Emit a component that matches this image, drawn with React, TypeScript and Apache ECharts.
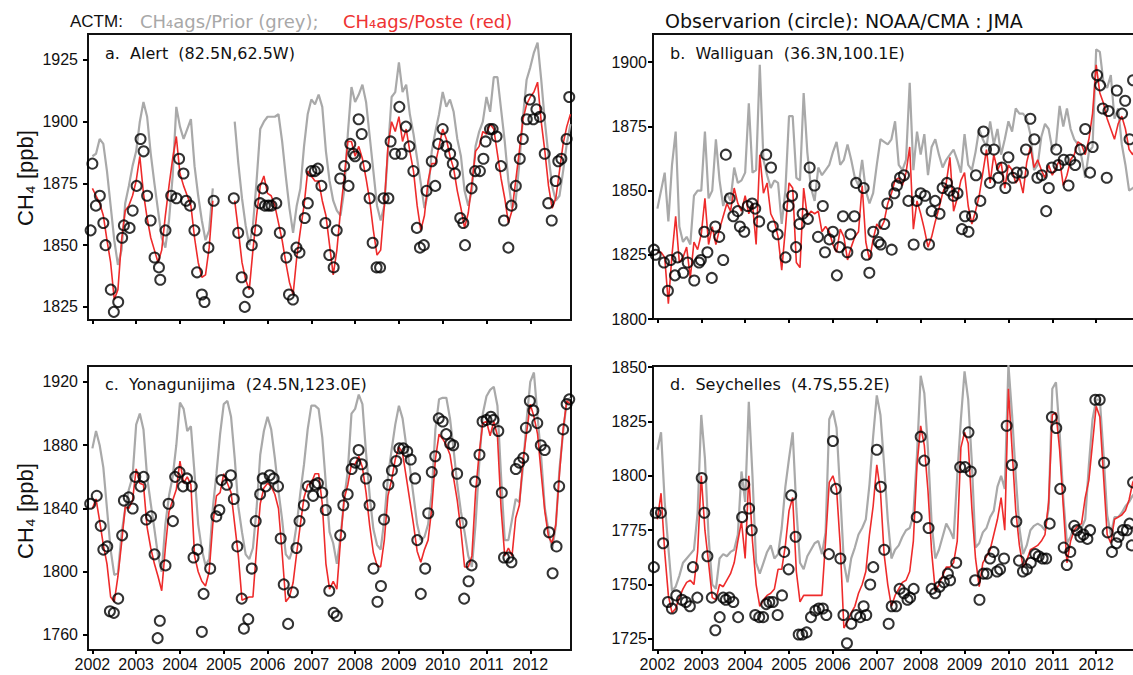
import React, { useEffect, useRef } from "react";
import * as echarts from "echarts";

// ---------------- data ----------------
const START_YEAR = 2002;
const N_MONTHS = 132;
const yearTicks = [2002, 2003, 2004, 2005, 2006, 2007, 2008, 2009, 2010, 2011, 2012];

const ticksA = [1825, 1850, 1875, 1900, 1925];
const ticksB = [1800, 1825, 1850, 1875, 1900];
const ticksC = [1760, 1800, 1840, 1880, 1920];
const ticksD = [1725, 1750, 1775, 1800, 1825, 1850];

// a. Alert — monthly ACTM prior (grey) and posterior (red)
const priorA = [
  1886, 1887, 1893, 1891, 1880, 1866, 1852, 1842, 1848, 1867, 1874, 1882,
  1888, 1900, 1908, 1902, 1887, 1875, 1864, 1853, 1849, 1860, 1878, 1906,
  1898, 1893, 1897, 1901, 1882, 1870, 1860, 1852, 1856, 1873, null, null,
  null, null, null, 1900, 1883, 1869, 1858, 1850, 1858, 1876, 1897, 1900,
  1902, 1902, 1902, 1903, 1892, 1878, 1865, 1855, 1866, 1873, 1890, 1903,
  1909, 1907, 1911, 1906, 1888, 1876, 1868, 1864, 1862, 1872, 1895, 1914,
  1908, 1911, 1915, 1908, 1894, 1880, 1866, 1860, 1866, 1888, 1910, 1912,
  1924, 1912, 1915, 1903, 1895, 1885, 1875, 1865, 1871, 1888, 1896, 1903,
  1912, 1906, 1909, 1904, 1893, 1886, 1872, 1866, 1872, 1890, 1896, 1900,
  1910, 1904, 1918, 1918, 1905, 1892, 1876, 1865, 1868, 1883, 1902, 1917,
  1922, 1928, 1932, 1917, 1900, 1886, 1874, 1868, 1870, 1880, 1891, 1899,
];
const postA = [
  1873, 1870, 1867, 1862, 1852, 1843, 1828, 1832, 1852, 1864, 1866, 1870,
  1876, 1886, 1871, 1861, 1853, 1848, 1843, 1848, 1862, 1874, 1885, 1894,
  1879, 1874, 1870, 1866, 1853, 1843, 1837, 1838, 1849, 1868, null, null,
  null, null, null, 1868, 1856, 1843, 1836, 1832, 1848, 1862, 1874, 1878,
  1871, 1870, 1866, 1859, 1852, 1843, 1835, 1830, 1845, 1856, 1866, 1880,
  1878, 1876, 1876, 1868, 1862, 1850, 1838, 1848, 1864, 1877, 1892, 1892,
  1886, 1890, 1885, 1877, 1868, 1856, 1846, 1848, 1866, 1890, 1900, 1896,
  1902, 1892, 1897, 1888, 1880, 1866, 1856, 1862, 1876, 1883, 1883, 1890,
  1897, 1893, 1886, 1881, 1872, 1865, 1857, 1863, 1875, 1888, 1890, 1896,
  1895, 1899, 1897, 1887, 1877, 1869, 1859, 1864, 1876, 1888, 1901, 1907,
  1910, 1912, 1916, 1900, 1888, 1874, 1865, 1869, 1880, 1891, 1898, 1903,
];
const obsA = [
  [2001.96, 1856], [2002.0, 1883], [2002.08, 1866], [2002.17, 1870], [2002.25, 1859], [2002.3, 1850],
  [2002.42, 1832], [2002.49, 1823], [2002.59, 1827], [2002.68, 1853], [2002.72, 1858], [2002.85, 1857],
  [2002.92, 1864], [2003.01, 1874], [2003.1, 1893], [2003.17, 1888], [2003.25, 1870], [2003.33, 1860],
  [2003.42, 1845], [2003.52, 1841], [2003.55, 1836], [2003.67, 1856], [2003.8, 1870], [2003.92, 1869],
  [2003.98, 1885], [2004.08, 1879], [2004.14, 1868], [2004.23, 1866], [2004.33, 1856], [2004.39, 1839],
  [2004.5, 1830], [2004.56, 1827], [2004.65, 1849], [2004.77, 1868], [2005.23, 1869], [2005.33, 1855],
  [2005.41, 1837], [2005.48, 1825], [2005.56, 1831], [2005.64, 1850], [2005.75, 1856], [2005.83, 1867],
  [2005.89, 1873], [2005.94, 1866], [2006.02, 1866], [2006.09, 1866], [2006.2, 1867], [2006.28, 1855],
  [2006.43, 1845], [2006.49, 1830], [2006.58, 1828], [2006.66, 1849], [2006.73, 1847], [2006.85, 1861],
  [2006.92, 1867], [2007.0, 1880], [2007.08, 1880], [2007.15, 1881], [2007.23, 1874], [2007.32, 1859],
  [2007.41, 1846], [2007.51, 1841], [2007.58, 1856], [2007.66, 1877], [2007.75, 1882], [2007.85, 1874],
  [2007.89, 1891], [2007.96, 1887], [2008.0, 1886], [2008.08, 1901], [2008.15, 1895], [2008.23, 1882],
  [2008.33, 1869], [2008.4, 1851], [2008.49, 1841], [2008.57, 1841], [2008.65, 1869], [2008.76, 1869],
  [2008.81, 1892], [2008.91, 1887], [2009.01, 1906], [2009.06, 1887], [2009.16, 1898], [2009.24, 1890],
  [2009.33, 1880], [2009.41, 1857], [2009.48, 1849], [2009.57, 1850], [2009.63, 1872], [2009.75, 1884],
  [2009.83, 1874], [2009.9, 1891], [2010.0, 1897], [2010.08, 1890], [2010.17, 1887], [2010.23, 1883],
  [2010.28, 1879], [2010.4, 1861], [2010.47, 1859], [2010.51, 1850], [2010.66, 1873], [2010.74, 1880],
  [2010.85, 1880], [2010.93, 1885], [2010.98, 1892], [2011.08, 1897], [2011.14, 1897], [2011.23, 1894],
  [2011.33, 1882], [2011.4, 1860], [2011.5, 1849], [2011.57, 1866], [2011.67, 1874], [2011.76, 1885],
  [2011.83, 1893], [2011.92, 1901], [2011.99, 1909], [2012.07, 1901], [2012.14, 1905], [2012.22, 1902],
  [2012.33, 1887], [2012.41, 1867], [2012.49, 1860], [2012.58, 1876], [2012.64, 1884], [2012.71, 1885],
  [2012.83, 1893], [2012.89, 1910],
];

// b. Walliguan
const priorB = [
  1843, 1850, 1857, 1838, 1860, 1873, 1836, 1830, 1832, 1829, 1848, 1850,
  1850, 1873, 1847, 1850, 1870, 1854, 1844, 1849, 1846, 1859, 1853, 1854,
  1857, 1884, 1857, 1858, 1899, 1862, 1856, 1851, 1854, 1853, 1837, 1850,
  1879, 1879, 1855, 1854, 1888, 1865, 1851, 1846, 1859, 1856, 1858, 1860,
  1865, 1869, 1860, 1862, 1868, 1862, 1855, 1852, 1862, 1850, 1845, 1849,
  1860, 1870, 1869, 1868, 1870, 1877, 1860, 1858, 1862, 1892, 1858, 1873,
  1864, 1872, 1856, 1867, 1870, 1864, 1859, 1862, 1864, 1866, 1862, 1857,
  1872, 1860, 1858, 1865, 1874, 1870, 1867, 1877, 1868, 1874, 1864, 1870,
  1877, 1873, 1882, 1880, 1880, 1878, 1872, 1858, 1860, 1871, 1876, 1874,
  1866, 1868, 1883, 1875, 1882, 1874, 1870, 1868, 1863, 1855, 1865, 1867,
  1905, 1904, 1892, 1890, 1895, 1878, 1882, 1868, 1860, 1850, 1851, 1852,
];
const postB = [
  1826, 1826, 1824, 1806, 1825, 1840, 1822, 1824, 1828, 1816, 1830, 1827,
  1833, 1847, 1829, 1836, 1829, 1835, 1840, 1845, 1842, 1851, 1845, 1842,
  1848, 1841, 1845, 1829, 1864, 1849, 1853, 1841, 1838, 1832, 1819, 1835,
  1853, 1851, 1822, 1820, 1851, 1840, 1842, 1841, 1842, 1834, 1836, 1834,
  1829, 1826, 1835, 1832, 1823, 1828, 1832, 1834, 1852, 1830, 1823, 1831,
  1837, 1835, 1838, 1845, 1849, 1854, 1855, 1852, 1857, 1867, 1835, 1846,
  1841, 1835, 1828, 1832, 1838, 1843, 1849, 1853, 1863, 1842, 1847, 1854,
  1857, 1844, 1837, 1842, 1848, 1857, 1866, 1853, 1864, 1858, 1861, 1851,
  1860, 1858, 1853, 1855, 1849, 1861, 1867, 1859, 1862, 1858, 1855, 1860,
  1856, 1859, 1862, 1852, 1856, 1862, 1864, 1869, 1868, 1864, 1870, 1880,
  1899, 1888, 1884, 1878, 1874, 1870, 1876, 1879, 1874, 1866, 1864, 1868,
];
const obsB = [
  [2001.92, 1827], [2001.96, 1825], [2002.15, 1822], [2002.24, 1811], [2002.3, 1823], [2002.4, 1817],
  [2002.46, 1824], [2002.59, 1818], [2002.69, 1822], [2002.84, 1815], [2002.95, 1822], [2002.99, 1823],
  [2003.07, 1834], [2003.14, 1826], [2003.24, 1816], [2003.32, 1836], [2003.41, 1832], [2003.5, 1823],
  [2003.56, 1864], [2003.65, 1847], [2003.73, 1840], [2003.83, 1842], [2003.88, 1836], [2003.98, 1834],
  [2004.06, 1844], [2004.16, 1845], [2004.23, 1843], [2004.32, 1838], [2004.48, 1864], [2004.59, 1859],
  [2004.63, 1836], [2004.74, 1833], [2004.92, 1824], [2004.99, 1844], [2005.07, 1848], [2005.16, 1828],
  [2005.24, 1837], [2005.31, 1841], [2005.43, 1839], [2005.47, 1859], [2005.58, 1852], [2005.66, 1832],
  [2005.77, 1844], [2005.82, 1826], [2005.92, 1831], [2006.0, 1834], [2006.09, 1817], [2006.15, 1828],
  [2006.23, 1840], [2006.33, 1826], [2006.4, 1833], [2006.49, 1840], [2006.53, 1853], [2006.7, 1851],
  [2006.77, 1825], [2006.83, 1818], [2006.92, 1834], [2007.04, 1830], [2007.09, 1829], [2007.17, 1837],
  [2007.24, 1845], [2007.34, 1827], [2007.4, 1849], [2007.46, 1852], [2007.53, 1855], [2007.62, 1856],
  [2007.72, 1846], [2007.84, 1829], [2007.91, 1846], [2008.0, 1849], [2008.1, 1848], [2008.19, 1829],
  [2008.25, 1842], [2008.33, 1846], [2008.43, 1841], [2008.5, 1851], [2008.6, 1853], [2008.66, 1850],
  [2008.75, 1848], [2008.84, 1849], [2008.94, 1835], [2009.01, 1840], [2009.09, 1834], [2009.17, 1840],
  [2009.26, 1856], [2009.36, 1846], [2009.43, 1873], [2009.49, 1866], [2009.58, 1853], [2009.67, 1866],
  [2009.77, 1855], [2009.85, 1859], [2009.93, 1851], [2010.0, 1863], [2010.1, 1855], [2010.19, 1857],
  [2010.33, 1857], [2010.4, 1866], [2010.5, 1878], [2010.59, 1870], [2010.66, 1855], [2010.76, 1856],
  [2010.86, 1842], [2010.92, 1851], [2010.99, 1859], [2011.09, 1866], [2011.14, 1860], [2011.26, 1862],
  [2011.37, 1852], [2011.41, 1862], [2011.52, 1860], [2011.64, 1866], [2011.75, 1874], [2011.86, 1857],
  [2011.92, 1867], [2012.02, 1895], [2012.09, 1891], [2012.15, 1882], [2012.24, 1855], [2012.28, 1881],
  [2012.47, 1889], [2012.59, 1880], [2012.66, 1885], [2012.76, 1870], [2012.84, 1893],
];

// c. Yonagunijima
const priorC = [
  1878, 1889, 1880, 1866, 1840, 1814, 1798, 1799, 1824, 1840, 1852, 1860,
  1893, 1900, 1890, 1860, 1843, 1827, 1810, 1800, 1830, 1848, 1860, 1880,
  1907, 1903, 1889, 1892, 1862, 1830, 1814, 1804, 1808, 1840, 1862, 1887,
  1906, 1908, 1898, 1872, 1841, 1825, 1811, 1808, 1815, 1840, 1874, 1889,
  1898, 1890, 1872, 1851, 1833, 1811, 1808, 1815, 1830, 1850, 1868, 1890,
  1905, 1905, 1903, 1885, 1855, 1825, 1818, 1805, 1822, 1846, 1864, 1900,
  1903, 1912, 1906, 1875, 1848, 1827, 1817, 1814, 1833, 1860, 1877, 1893,
  1905, 1897, 1880, 1866, 1848, 1830, 1820, 1822, 1830, 1850, 1890, 1909,
  1910, 1910, 1897, 1877, 1855, 1838, 1825, 1810, 1803, 1830, 1868, 1900,
  1911, 1915, 1917, 1905, 1860, 1820, 1820, 1833, 1846, 1844, 1866, 1896,
  1920, 1926, 1898, 1872, 1840, 1826, 1814, 1829, 1865, 1888, 1908, 1910,
];
const postC = [
  1840, 1846, 1832, 1817, 1805, 1784, 1781, 1797, 1818, 1841, 1840, 1845,
  1865, 1856, 1855, 1828, 1815, 1805, 1797, 1788, 1815, 1838, 1845, 1852,
  1870, 1856, 1860, 1855, 1810, 1800, 1794, 1791, 1800, 1830, 1848, 1850,
  1862, 1856, 1850, 1830, 1810, 1782, 1783, 1784, 1784, 1815, 1843, 1853,
  1856, 1854, 1849, 1840, 1812, 1781, 1784, 1793, 1812, 1830, 1847, 1855,
  1856, 1862, 1862, 1843, 1805, 1789, 1794, 1789, 1820, 1846, 1855, 1868,
  1868, 1873, 1866, 1850, 1829, 1812, 1804, 1803, 1820, 1848, 1858, 1871,
  1879, 1875, 1860, 1845, 1830, 1813, 1806, 1814, 1820, 1840, 1871, 1887,
  1884, 1880, 1874, 1859, 1845, 1826, 1803, 1803, 1810, 1850, 1875, 1894,
  1895, 1886, 1895, 1886, 1840, 1810, 1815, 1810, 1834, 1842, 1870, 1888,
  1906, 1898, 1887, 1862, 1838, 1822, 1818, 1830, 1862, 1890, 1908, 1906,
];
const obsC = [
  [2001.95, 1843], [2002.1, 1848], [2002.19, 1829], [2002.25, 1814], [2002.34, 1816], [2002.4, 1775],
  [2002.49, 1774], [2002.59, 1783], [2002.68, 1823], [2002.72, 1845], [2002.83, 1847], [2002.92, 1840],
  [2002.98, 1860], [2003.1, 1854], [2003.17, 1860], [2003.23, 1833], [2003.34, 1835], [2003.42, 1811],
  [2003.49, 1758], [2003.54, 1769], [2003.67, 1804], [2003.74, 1843], [2003.84, 1832], [2003.89, 1860],
  [2003.99, 1863], [2004.07, 1854], [2004.16, 1859], [2004.27, 1854], [2004.31, 1809], [2004.4, 1814],
  [2004.5, 1762], [2004.54, 1786], [2004.69, 1802], [2004.83, 1835], [2004.9, 1839], [2004.95, 1858],
  [2005.07, 1855], [2005.16, 1861], [2005.23, 1846], [2005.31, 1816], [2005.41, 1783], [2005.46, 1764],
  [2005.56, 1770], [2005.64, 1802], [2005.73, 1832], [2005.83, 1849], [2005.89, 1859], [2005.96, 1854],
  [2006.05, 1861], [2006.14, 1859], [2006.24, 1854], [2006.3, 1821], [2006.37, 1792], [2006.47, 1767],
  [2006.58, 1787], [2006.66, 1815], [2006.73, 1832], [2006.83, 1842], [2006.92, 1854], [2007.04, 1848],
  [2007.08, 1855], [2007.15, 1856], [2007.25, 1850], [2007.33, 1839], [2007.41, 1788], [2007.51, 1774],
  [2007.58, 1772], [2007.66, 1823], [2007.73, 1842], [2007.83, 1849], [2007.92, 1865], [2008.0, 1869],
  [2008.08, 1877], [2008.15, 1868], [2008.25, 1859], [2008.33, 1842], [2008.42, 1802], [2008.51, 1781],
  [2008.59, 1791], [2008.66, 1833], [2008.76, 1855], [2008.84, 1864], [2008.94, 1870], [2009.01, 1878],
  [2009.1, 1878], [2009.19, 1876], [2009.27, 1871], [2009.37, 1859], [2009.42, 1820], [2009.5, 1786],
  [2009.6, 1802], [2009.67, 1837], [2009.75, 1863], [2009.83, 1873], [2009.91, 1897], [2010.0, 1895],
  [2010.08, 1887], [2010.17, 1881], [2010.24, 1880], [2010.33, 1862], [2010.43, 1831], [2010.49, 1783],
  [2010.59, 1794], [2010.66, 1804], [2010.74, 1857], [2010.84, 1874], [2010.91, 1895], [2011.0, 1896],
  [2011.1, 1898], [2011.16, 1896], [2011.27, 1889], [2011.35, 1850], [2011.4, 1809], [2011.5, 1809],
  [2011.57, 1806], [2011.67, 1865], [2011.75, 1869], [2011.84, 1872], [2011.9, 1891], [2011.99, 1908],
  [2012.07, 1902], [2012.16, 1894], [2012.24, 1880], [2012.33, 1877], [2012.43, 1825], [2012.51, 1799],
  [2012.6, 1816], [2012.66, 1854], [2012.75, 1890], [2012.83, 1906], [2012.89, 1909],
];

// d. Seychelles
const priorD = [
  1812, 1820, 1788, 1767, 1747, 1749, 1754, 1760, 1762, 1764, 1766, 1783,
  1828, 1808, 1772, 1750, 1748, 1762, 1764, 1763, 1765, 1766, 1773, 1802,
  1788, 1834, 1800, 1760, 1755, 1760, 1765, 1768, 1762, 1764, 1776, 1795,
  1808, 1820, 1785, 1760, 1757, 1763, 1766, 1769, 1770, 1764, 1774, 1826,
  1830, 1822, 1792, 1760, 1751, 1762, 1767, 1773, 1776, 1780, 1796, 1818,
  1837, 1828, 1805, 1780, 1762, 1766, 1768, 1772, 1775, 1776, 1782, 1810,
  1846, 1838, 1812, 1778, 1762, 1766, 1772, 1778, 1775, 1771, 1800, 1826,
  1848, 1835, 1806, 1767, 1769, 1774, 1776, 1781, 1784, 1795, 1800, 1794,
  1851, 1828, 1800, 1776, 1764, 1768, 1775, 1777, 1778, 1777, 1775, 1785,
  1840, 1843, 1820, 1790, 1769, 1772, 1777, 1776, 1776, 1780, 1805, 1826,
  1835, 1835, 1810, 1782, 1773, 1781, 1781, 1783, 1786, 1788, 1791, 1793,
];
const postD = [
  1780, 1792, 1765, 1745, 1737, 1739, 1744, 1748, 1751, 1752, 1750, 1765,
  1800, 1775, 1760, 1744, 1743, 1750, 1749, 1752, 1755, 1760, 1770, 1779,
  1762, 1800, 1770, 1750, 1740, 1743, 1745, 1746, 1748, 1757, 1757, 1768,
  1784, 1790, 1756, 1742, 1745, 1745, 1745, 1745, 1745, 1745, 1770, 1797,
  1800, 1794, 1768, 1730, 1733, 1737, 1740, 1746, 1750, 1756, 1773, 1786,
  1805, 1793, 1764, 1750, 1740, 1745, 1748, 1751, 1752, 1756, 1770, 1805,
  1823, 1814, 1793, 1765, 1747, 1750, 1754, 1758, 1758, 1760, 1770, 1813,
  1820, 1815, 1785, 1762, 1749, 1760, 1763, 1766, 1773, 1780, 1790, 1775,
  1840, 1812, 1784, 1768, 1758, 1761, 1766, 1767, 1768, 1770, 1773, 1788,
  1828, 1829, 1812, 1786, 1760, 1770, 1775, 1777, 1778, 1790, 1798, 1815,
  1832, 1827, 1800, 1773, 1769, 1780, 1781, 1782, 1784, 1789, 1797, 1800,
];
const obsD = [
  [2001.92, 1758], [2001.96, 1783], [2002.08, 1783], [2002.13, 1769], [2002.24, 1742], [2002.33, 1739],
  [2002.43, 1745], [2002.56, 1743], [2002.65, 1742], [2002.74, 1740], [2002.81, 1758], [2002.91, 1744],
  [2003.01, 1799], [2003.07, 1783], [2003.14, 1763], [2003.24, 1744], [2003.32, 1729], [2003.42, 1735],
  [2003.5, 1744], [2003.56, 1743], [2003.64, 1744], [2003.73, 1742], [2003.84, 1735], [2003.93, 1781],
  [2003.98, 1796], [2004.09, 1785], [2004.15, 1775], [2004.23, 1736], [2004.32, 1735], [2004.41, 1735],
  [2004.48, 1741], [2004.55, 1742], [2004.63, 1742], [2004.74, 1736], [2004.84, 1745], [2004.89, 1765],
  [2004.99, 1757], [2005.05, 1791], [2005.15, 1772], [2005.22, 1727], [2005.3, 1727], [2005.4, 1728],
  [2005.5, 1735], [2005.6, 1738], [2005.68, 1739], [2005.77, 1739], [2005.85, 1736], [2005.91, 1764],
  [2006.0, 1816], [2006.07, 1794], [2006.17, 1762], [2006.24, 1736], [2006.32, 1723], [2006.42, 1732],
  [2006.53, 1736], [2006.62, 1735], [2006.7, 1740], [2006.76, 1736], [2006.85, 1750], [2006.92, 1758],
  [2007.0, 1812], [2007.09, 1795], [2007.17, 1766], [2007.27, 1732], [2007.34, 1740], [2007.44, 1740],
  [2007.52, 1748], [2007.62, 1746], [2007.7, 1743], [2007.76, 1744], [2007.84, 1748], [2007.91, 1781],
  [2008.0, 1818], [2008.08, 1807], [2008.18, 1776], [2008.25, 1748], [2008.33, 1746], [2008.43, 1749],
  [2008.53, 1751], [2008.62, 1755], [2008.67, 1752], [2008.81, 1760], [2008.9, 1804], [2009.01, 1804],
  [2009.09, 1820], [2009.14, 1802], [2009.24, 1752], [2009.34, 1743], [2009.43, 1755], [2009.51, 1755],
  [2009.58, 1762], [2009.66, 1765], [2009.74, 1756], [2009.81, 1757], [2009.9, 1762], [2009.96, 1823],
  [2010.08, 1805], [2010.18, 1779], [2010.24, 1761], [2010.33, 1756], [2010.42, 1757], [2010.51, 1760],
  [2010.61, 1764], [2010.69, 1763], [2010.78, 1762], [2010.86, 1762], [2010.94, 1778], [2010.99, 1827],
  [2011.09, 1822], [2011.18, 1794], [2011.26, 1767], [2011.33, 1759], [2011.41, 1765], [2011.5, 1777],
  [2011.56, 1775], [2011.64, 1772], [2011.71, 1773], [2011.8, 1771], [2011.86, 1775], [2011.98, 1835],
  [2012.08, 1835], [2012.18, 1806], [2012.26, 1774], [2012.36, 1765], [2012.46, 1769], [2012.51, 1772],
  [2012.61, 1775], [2012.7, 1775], [2012.76, 1778], [2012.81, 1768], [2012.84, 1797],
];

const panelTitles = [
  "a.  Alert  (82.5N,62.5W)",
  "b.  Walliguan  (36.3N,100.1E)",
  "c.  Yonagunijima  (24.5N,123.0E)",
  "d.  Seychelles  (4.7S,55.2E)",
];

// ---------------- styling ----------------
const NUM_FONT = "'Liberation Sans', Arial, 'DejaVu Sans', sans-serif";
const LBL_FONT = "'DejaVu Sans', 'Noto Sans', sans-serif";
const GREY = "#a9a9a9";
const RED = "#ee2b2b";

const X_MIN = 2001.9;
const X_MAX = 2012.93;

const grids = [
  { left: 88, top: 34, width: 483, height: 286 },
  { left: 653, top: 34, width: 484, height: 285 },
  { left: 88, top: 366, width: 483, height: 284 },
  { left: 653, top: 366, width: 484, height: 284 },
];
const yRanges = [
  [1819.7, 1935.5],
  [1800, 1911],
  [1750.5, 1930.1],
  [1719.9, 1850.5],
];
const yLabelMargin = [10, 6, 10, 6];

const monthX = Array.from({ length: N_MONTHS }, (_, i) => START_YEAR + i / 12);
const toLine = (vals: (number | null)[]) =>
  vals.map((v, i) => [monthX[i], v == null ? "-" : v]);

export default function App() {
  const ref = useRef<HTMLDivElement>(null);

  useEffect(() => {
    if (!ref.current) return;
    const chart = echarts.init(ref.current, null, { renderer: "svg" });

    const priors = [priorA, priorB, priorC, priorD];
    const posts = [postA, postB, postC, postD];
    const obs = [obsA, obsB, obsC, obsD];
    const yTicks = [ticksA, ticksB, ticksC, ticksD];

    const xAxis = grids.map((_, k) => ({
      type: "value",
      gridIndex: k,
      min: X_MIN,
      max: X_MAX,
      axisLine: { show: false },
      splitLine: { show: false },
      axisTick: {
        show: true,
        customValues: yearTicks,
        length: 4,
        lineStyle: { color: "#000", width: 2 },
      },
      axisLabel: {
        show: k >= 2,
        customValues: yearTicks,
        formatter: (v: number) => String(Math.round(v)),
        fontFamily: NUM_FONT,
        fontSize: 16,
        color: "#111",
        margin: 6,
      },
    }));

    const yAxis = grids.map((_, k) => ({
      type: "value",
      gridIndex: k,
      min: yRanges[k][0],
      max: yRanges[k][1],
      axisLine: { show: false },
      splitLine: { show: false },
      axisTick: {
        show: true,
        customValues: yTicks[k],
        length: 5,
        lineStyle: { color: "#000", width: 2 },
      },
      axisLabel: {
        customValues: yTicks[k],
        formatter: (v: number) => String(Math.round(v)),
        fontFamily: NUM_FONT,
        fontSize: 16,
        color: "#111",
        margin: yLabelMargin[k],
      },
    }));

    const series: any[] = [];
    for (let k = 0; k < 4; k++) {
      series.push({
        type: "line",
        xAxisIndex: k,
        yAxisIndex: k,
        data: toLine(priors[k]),
        showSymbol: false,
        connectNulls: false,
        lineStyle: { color: GREY, width: 2.2 },
        z: 2,
      });
      series.push({
        type: "line",
        xAxisIndex: k,
        yAxisIndex: k,
        data: toLine(posts[k]),
        showSymbol: false,
        connectNulls: false,
        lineStyle: { color: RED, width: 1.6 },
        z: 3,
      });
      series.push({
        type: "scatter",
        xAxisIndex: k,
        yAxisIndex: k,
        data: obs[k],
        symbol: "circle",
        symbolSize: 10,
        clip: true,
        itemStyle: { color: "rgba(0,0,0,0)", borderColor: "#000", borderWidth: 2 },
        z: 4,
      });
    }

    const titlePos = [
      [105, 53],
      [670, 53],
      [105, 384],
      [670, 384],
    ];

    const graphic: any[] = [
      {
        type: "text",
        x: 70,
        y: 21,
        style: { text: "ACTM:", fontFamily: NUM_FONT, fontSize: 17, fill: "#111", verticalAlign: "middle" },
      },
      {
        type: "text",
        x: 140,
        y: 21,
        style: { text: "CH\u2084ags/Prior (grey);", fontFamily: LBL_FONT, fontSize: 18, fill: "#a8a8a8", verticalAlign: "middle" },
      },
      {
        type: "text",
        x: 343,
        y: 21,
        style: { text: "CH\u2084ags/Poste (red)", fontFamily: LBL_FONT, fontSize: 18, fill: "#ee3333", verticalAlign: "middle" },
      },
      {
        type: "text",
        x: 665,
        y: 21,
        style: { text: "Observarion (circle): NOAA/CMA : JMA", fontFamily: LBL_FONT, fontSize: 19, fill: "#111", verticalAlign: "middle" },
      },
      {
        type: "text",
        x: 25,
        y: 178,
        rotation: Math.PI / 2,
        style: { text: "CH\u2084 [ppb]", fontFamily: NUM_FONT, fontSize: 22, fill: "#111", align: "center", verticalAlign: "middle" },
      },
      {
        type: "text",
        x: 25,
        y: 511,
        rotation: Math.PI / 2,
        style: { text: "CH\u2084 [ppb]", fontFamily: NUM_FONT, fontSize: 22, fill: "#111", align: "center", verticalAlign: "middle" },
      },
    ];
    panelTitles.forEach((t, k) => {
      graphic.push({
        type: "text",
        x: titlePos[k][0],
        y: titlePos[k][1],
        z: 10,
        style: { text: t, fontFamily: LBL_FONT, fontSize: 16, fill: "#111", verticalAlign: "middle" },
      });
    });

    chart.setOption({
      animation: false,
      backgroundColor: "#fff",
      grid: grids.map((g) => ({ ...g, show: true, borderColor: "#111", borderWidth: 2, backgroundColor: "transparent" })),
      xAxis,
      yAxis,
      series,
      graphic,
    });

    return () => chart.dispose();
  }, []);

  return (
    <div style={{ position: "fixed", left: 0, top: 0, width: 1133, height: 675, overflow: "hidden", background: "#fff" }}>
      <div ref={ref} style={{ width: 1145, height: 675 }} />
    </div>
  );
}
